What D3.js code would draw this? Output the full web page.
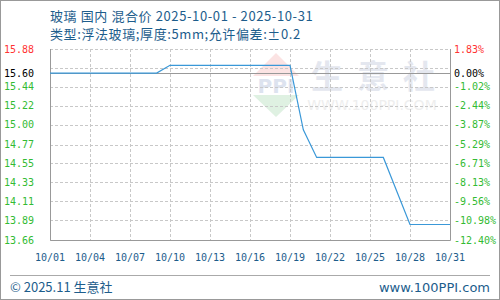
<!DOCTYPE html>
<html>
<head>
<meta charset="utf-8">
<script src="https://cdn.jsdelivr.net/npm/d3@7"></script>
<style>
  body { margin: 0; background: #fff; }
  svg { display: block; }
</style>
</head>
<body>
<div id="chart"></div>
<script>
// daily price, 2025-10-01 .. 2025-10-31
let days = d3.range(1, 32);
let prices = [
  15.60, 15.60, 15.60, 15.60, 15.60, 15.60, 15.60, 15.60, 15.60, 15.69,
  15.69, 15.69, 15.69, 15.69, 15.69, 15.69, 15.69, 15.69, 15.69, 14.94,
  14.62, 14.62, 14.62, 14.62, 14.62, 14.62, 14.23, 13.84, 13.84, 13.84,
  13.84,
];
let xTicks = [1, 4, 7, 10, 13, 16, 19, 22, 25, 28, 31];
let yTicks = [13.66, 13.89, 14.11, 14.33, 14.55, 14.77, 15.00, 15.22, 15.44, 15.66, 15.88];
let leftLabels = ["13.66", "13.89", "14.11", "14.33", "14.55", "14.77", "15.00", "15.22", "15.44", "", "15.88"];
let rightLabels = ["-12.40%", "-10.98%", "-9.56%", "-8.13%", "-6.71%", "-5.29%", "-3.87%", "-2.44%", "-1.02%", "", "1.83%"];
let base = 15.60;

let W = 500, H = 300;
let pLeft = 50, pRight = 450, pTop = 49, pBottom = 240;
let mono = "'DejaVu Sans Mono', monospace";
let cjk = "'Noto Sans CJK SC', 'Noto Sans', sans-serif";
let blue = "#1d5d8c";

let svg = d3.select("#chart").append("svg").attr("width", W).attr("height", H);

svg.append("rect")
  .attr("x", 0.5).attr("y", 0.5)
  .attr("width", W - 1).attr("height", H - 1)
  .attr("fill", "#fff").attr("stroke", "#999");

let x = d3.scaleLinear().domain([1, 31]).range([pLeft, pRight]);
let y = d3.scaleLinear().domain([13.66, 15.88]).range([pBottom, pTop]);

// watermark
let wm = svg.append("g");
wm.append("path")
  .attr("d", "M276,53 L299,76 L253,76 Z")
  .attr("fill", "#fbe3e3");
wm.append("path")
  .attr("d", "M253,95 L299,95 L276,117 Z")
  .attr("fill", "#dff1e2");
wm.append("text")
  .attr("x", 276).attr("y", 93)
  .attr("text-anchor", "middle")
  .style("font-family", "'DejaVu Sans', sans-serif")
  .style("font-size", "20px")
  .style("font-weight", "bold")
  .attr("fill", "#dde3ef")
  .text("PPI");
wm.append("text")
  .attr("x", 380).attr("y", 88)
  .attr("text-anchor", "middle")
  .style("font-family", cjk)
  .style("font-size", "32px")
  .style("font-weight", "bold")
  .style("letter-spacing", "14px")
  .attr("fill", "#e4e7ef")
  .text("生意社");
wm.append("text")
  .attr("x", 372).attr("y", 110)
  .attr("text-anchor", "middle")
  .style("font-family", "'DejaVu Sans', sans-serif")
  .style("font-size", "14px")
  .attr("fill", "#eeeeee")
  .text("WWW.100PPI.COM");

// grid
svg.append("g")
  .selectAll("line")
  .data(yTicks)
  .join("line")
  .attr("x1", pLeft).attr("x2", pRight)
  .attr("y1", (d) => Math.round(y(d)) + 0.5)
  .attr("y2", (d) => Math.round(y(d)) + 0.5)
  .attr("stroke", "#c8c8c8")
  .attr("stroke-dasharray", "3,2");

svg.append("g")
  .selectAll("line")
  .data(xTicks.slice(1, -1))
  .join("line")
  .attr("x1", (d) => Math.round(x(d)) + 0.5)
  .attr("x2", (d) => Math.round(x(d)) + 0.5)
  .attr("y1", pTop).attr("y2", pBottom)
  .attr("stroke", "#c8c8c8")
  .attr("stroke-dasharray", "3,2");

// base line
svg.append("line")
  .attr("x1", pLeft).attr("x2", pRight)
  .attr("y1", Math.round(y(base)) + 0.5)
  .attr("y2", Math.round(y(base)) + 0.5)
  .attr("stroke", "#999");

// frame (left, bottom, right)
svg.append("path")
  .attr("d", `M${pLeft + 0.5},${pTop} V${pBottom + 0.5} H${pRight + 0.5} V${pTop}`)
  .attr("fill", "none")
  .attr("stroke", "#999");

// series
let line = d3.line()
  .x((d, i) => x(days[i]))
  .y((d) => y(d));

svg.append("path")
  .datum(prices)
  .attr("d", line)
  .attr("fill", "none")
  .attr("stroke", "#3a98d8")
  .attr("stroke-width", 1.2);

// axis labels
let labelColor = (i) => (i === yTicks.length - 1 ? "#ff3333" : "#33bb33");

svg.append("g")
  .selectAll("text")
  .data(yTicks)
  .join("text")
  .attr("x", 4)
  .attr("y", (d) => y(d))
  .attr("dy", "0.35em")
  .style("font-family", mono)
  .style("font-size", "10px")
  .attr("fill", (d, i) => labelColor(i))
  .text((d, i) => leftLabels[i]);

svg.append("g")
  .selectAll("text")
  .data(yTicks)
  .join("text")
  .attr("x", 454)
  .attr("y", (d) => y(d))
  .attr("dy", "0.35em")
  .style("font-family", mono)
  .style("font-size", "10px")
  .attr("fill", (d, i) => labelColor(i))
  .text((d, i) => rightLabels[i]);

// base labels
svg.append("text")
  .attr("x", 4).attr("y", y(base)).attr("dy", "0.35em")
  .style("font-family", mono).style("font-size", "10px")
  .attr("fill", "#000")
  .text(base.toFixed(2));
svg.append("text")
  .attr("x", 454).attr("y", y(base)).attr("dy", "0.35em")
  .style("font-family", mono).style("font-size", "10px")
  .attr("fill", "#000")
  .text("0.00%");

// x labels
svg.append("g")
  .selectAll("text")
  .data(xTicks)
  .join("text")
  .attr("x", (d) => x(d))
  .attr("y", 261)
  .attr("text-anchor", "middle")
  .style("font-family", mono)
  .style("font-size", "10px")
  .attr("fill", blue)
  .text((d) => "10/" + String(d).padStart(2, "0"));

// titles
svg.append("text")
  .attr("x", 50).attr("y", 21)
  .style("font-family", cjk)
  .style("font-size", "13px")
  .style("letter-spacing", "0.6px")
  .attr("fill", blue)
  .text("玻璃 国内 混合价 2025-10-01 - 2025-10-31");
svg.append("text")
  .attr("x", 50).attr("y", 39)
  .style("font-family", cjk)
  .style("font-size", "13px")
  .style("letter-spacing", "0.6px")
  .attr("fill", blue)
  .text("类型:浮法玻璃;厚度:5mm;允许偏差:±0.2");

// footer
svg.append("line")
  .attr("x1", 10).attr("x2", 490)
  .attr("y1", 275.5).attr("y2", 275.5)
  .attr("stroke", "#aaa");
svg.append("text")
  .attr("x", 10).attr("y", 292)
  .style("font-family", cjk)
  .style("font-size", "13px")
  .attr("fill", blue)
  .text("© 2025.11 生意社");
svg.append("text")
  .attr("x", 490).attr("y", 292)
  .attr("text-anchor", "end")
  .style("font-family", "'DejaVu Sans', sans-serif")
  .style("font-size", "13px")
  .attr("fill", blue)
  .text("www.100PPI.com");
</script>
</body>
</html>
